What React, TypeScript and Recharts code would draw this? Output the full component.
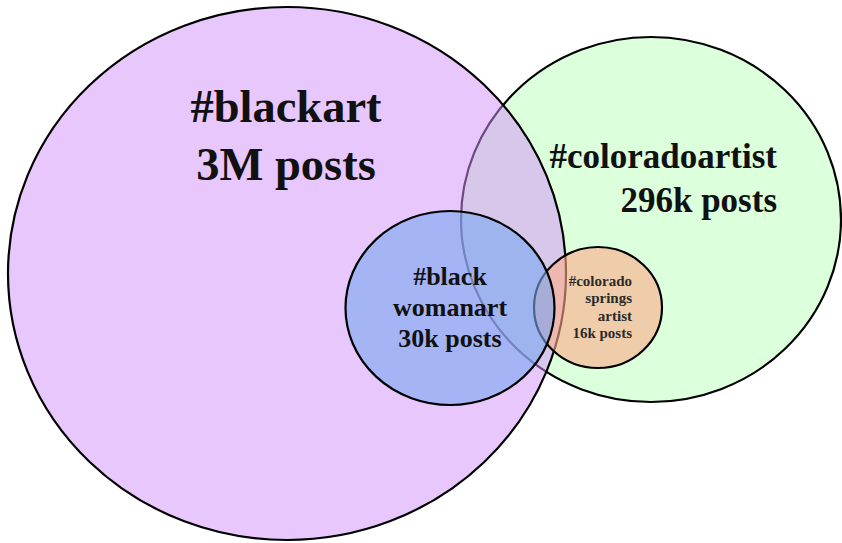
import { Scatter, ScatterChart, XAxis, YAxis } from 'recharts'

// hashtag circles, in reading order
const hashtags = ['#blackart', '#coloradoartist', '#blackwomanart', '#coloradospringsartist']
const postCounts = ['3M posts', '296k posts', '30k posts', '16k posts']
const labelLines = [
  ['#blackart', '3M posts'],
  ['#coloradoartist', '296k posts'],
  ['#black', 'womanart', '30k posts'],
  ['#colorado', 'springs', 'artist', '16k posts'],
]
// circle centres and radii, in diagram units
const centerX = [287, 651, 450, 598]
const centerY = [273.5, 219.5, 308, 307.5]
const radiusX = [279, 190, 104.5, 64]
const radiusY = [266.5, 182.5, 97, 60.5]

const W = 842
const H = 543
const X_DOMAIN: [number, number] = [0, 842]
const Y_DOMAIN: [number, number] = [0, 543]
const kx = W / (X_DOMAIN[1] - X_DOMAIN[0])
const ky = H / (Y_DOMAIN[1] - Y_DOMAIN[0])

const FONT = '"Liberation Serif", "Times New Roman", serif'

const styles = [
  { fill: 'rgb(210,147,249)', opacity: 0.51 },
  { fill: 'rgb(220,255,220)', opacity: 1 },
  { fill: 'rgb(120,167,240)', opacity: 0.6 },
  { fill: 'rgb(253,172,137)', opacity: 0.6 },
]

// text placement relative to each centre
const labelLayout = [
  { dx: -1, dy: -151.5, size: 46.5, gap: 58, anchor: 'middle', color: '#111' },
  { dx: 126, dy: -51.5, size: 35, gap: 44, anchor: 'end', color: '#111' },
  { dx: 0, dy: -23, size: 26, gap: 31, anchor: 'middle', color: '#111' },
  { dx: 34, dy: -21.5, size: 15, gap: 17.3, anchor: 'end', color: '#2a2a2a' },
]

// green sits at the bottom, then purple, orange and blue on top
const drawOrder = [1, 0, 3, 2]

const circles = hashtags.map((tag, i) => ({
  tag,
  posts: postCounts[i],
  x: centerX[i],
  y: centerY[i],
  rx: radiusX[i],
  ry: radiusY[i],
  idx: i,
}))

const Ellipse = (props: any) => {
  const { cx, cy, payload } = props
  const s = styles[payload.idx]
  return (
    <ellipse
      cx={cx}
      cy={cy}
      rx={payload.rx * kx}
      ry={payload.ry * ky}
      fill={s.fill}
      fillOpacity={s.opacity}
      stroke="#000"
      strokeWidth={2.2}
    />
  )
}

const Label = (props: any) => {
  const { cx, cy, payload } = props
  const l = labelLayout[payload.idx]
  return (
    <text
      x={cx + l.dx}
      y={cy + l.dy}
      textAnchor={l.anchor}
      fontFamily={FONT}
      fontWeight="bold"
      fontSize={l.size}
      fill={l.color}
    >
      {labelLines[payload.idx].map((line, j) => (
        <tspan key={j} x={cx + l.dx} y={cy + l.dy + j * l.gap}>
          {line}
        </tspan>
      ))}
    </text>
  )
}

export default function App() {
  return (
    <div style={{ width: W, height: H, background: '#fff' }}>
      <style>{'body{margin:0}'}</style>
      <ScatterChart width={W} height={H} margin={{ top: 0, right: 0, bottom: 0, left: 0 }}>
        <XAxis type="number" dataKey="x" domain={X_DOMAIN} allowDataOverflow hide />
        <YAxis type="number" dataKey="y" domain={Y_DOMAIN} allowDataOverflow reversed hide />
        {drawOrder.map((i) => (
          <Scatter
            key={circles[i].tag}
            data={[circles[i]]}
            shape={Ellipse}
            isAnimationActive={false}
          />
        ))}
        <Scatter data={circles} shape={Label} isAnimationActive={false} />
      </ScatterChart>
    </div>
  )
}
